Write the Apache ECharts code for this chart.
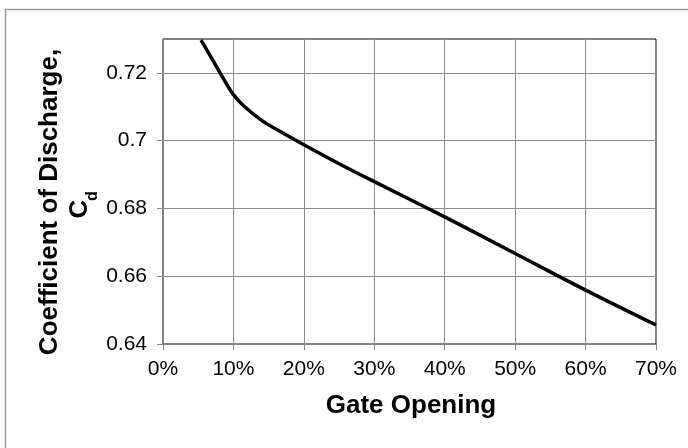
<!DOCTYPE html>
<html>
<head>
<meta charset="utf-8">
<script src="https://cdn.jsdelivr.net/npm/echarts@6/dist/echarts.min.js"></script>
<style>
html,body{margin:0;padding:0;background:#fff;}
#chart{width:688px;height:448px;}
</style>
</head>
<body>
<div id="chart"></div>
<script>
// Gate opening (%) and coefficient of discharge
var gateOpening = [5.4, 6.44, 8.1, 8.8, 10, 11.6, 14, 16.4, 20, 25, 30, 40, 50, 60, 70];
var dischargeCoef = [0.7297, 0.7260, 0.7200, 0.7175, 0.7136, 0.7100, 0.7060, 0.7030, 0.6988, 0.6932, 0.6879, 0.6775, 0.6667, 0.6559, 0.6456];
var xTicks = [0, 10, 20, 30, 40, 50, 60, 70];
var yTicks = [0.64, 0.66, 0.68, 0.70, 0.72];
var xTitle = 'Gate Opening';
var yTitle = 'Coefficient of Discharge,';

var chart = echarts.init(document.getElementById('chart'));
var pts = gateOpening.map(function (x, i) { return [x, dischargeCoef[i]]; });
var font = 'Liberation Sans, Arial, sans-serif';

chart.setOption({
  animation: false,
  backgroundColor: '#fff',
  grid: {left: 163, top: 39, right: 32, bottom: 104, show: true, borderColor: '#000', borderWidth: 1},
  xAxis: {
    type: 'value', min: 0, max: 70, interval: 10,
    axisLine: {show: true, lineStyle: {color: '#868686', width: 1}},
    axisTick: {show: true, length: 6, lineStyle: {color: '#868686'}, customValues: xTicks},
    axisLabel: {customValues: xTicks, formatter: function (v) { return v + '%'; }, color: '#000', fontSize: 21, fontFamily: font, margin: 15},
    splitLine: {show: true, lineStyle: {color: '#8c8c8c', width: 1}}
  },
  yAxis: {
    type: 'value', min: 0.64, max: 0.73, interval: 0.02,
    axisLine: {show: true, lineStyle: {color: '#868686', width: 1}},
    axisTick: {show: true, length: 6, lineStyle: {color: '#868686'}, customValues: yTicks},
    axisLabel: {customValues: yTicks, formatter: function (v) { return String(+v.toFixed(2)); }, color: '#000', fontSize: 21, fontFamily: font, margin: 16},
    splitLine: {show: true, lineStyle: {color: '#8c8c8c', width: 1}}
  },
  series: [{
    type: 'line', data: pts, smooth: 0.35, symbol: 'none',
    lineStyle: {color: '#000', width: 3.5}, clip: true
  }],
  graphic: [
    {type: 'rect', shape: {x: 5.5, y: 9.5, width: 720, height: 480}, style: {fill: 'none', stroke: '#999', lineWidth: 1.5}, z: -1},
    {type: 'text', x: 411, y: 406, style: {text: xTitle, align: 'center', verticalAlign: 'middle', font: 'bold 26px ' + font, fill: '#000'}},
    {type: 'text', x: 50, y: 202, rotation: Math.PI / 2, style: {text: yTitle, align: 'center', verticalAlign: 'middle', font: 'bold 26px ' + font, fill: '#000'}},
    {type: 'text', x: 80, y: 209, rotation: Math.PI / 2, style: {text: 'C', align: 'center', verticalAlign: 'middle', font: 'bold 26px ' + font, fill: '#000'}},
    {type: 'text', x: 93, y: 196, rotation: Math.PI / 2, style: {text: 'd', align: 'center', verticalAlign: 'middle', font: 'bold 16px ' + font, fill: '#000'}}
  ]
});
</script>
</body>
</html>
